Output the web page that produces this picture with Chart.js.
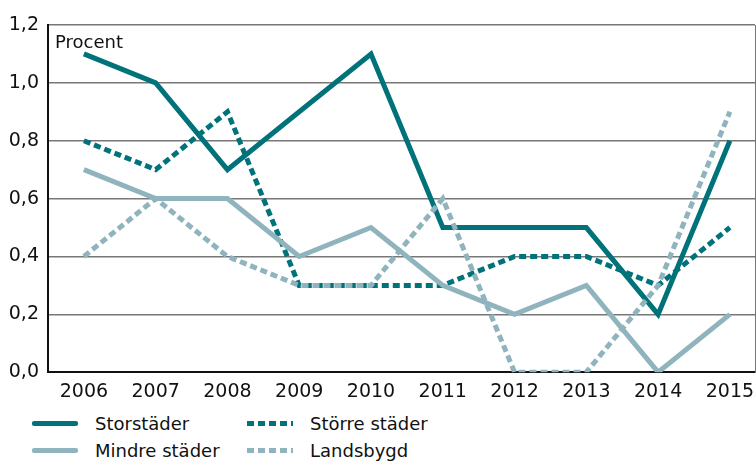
<!DOCTYPE html>
<html>
<head>
<meta charset="utf-8">
<script src="https://cdn.jsdelivr.net/npm/chart.js@4"></script>
<style>
  html, body { margin: 0; padding: 0; background: #fff; }
  body { width: 756px; height: 462px; overflow: hidden; position: relative;
         font-family: "DejaVu Sans", sans-serif; }
  #chart { position: absolute; left: 0; top: 0; }
  #legend { position: absolute; left: 32px; top: 413px; display: grid;
            grid-template-columns: 215px 240px; row-gap: 6px; font-size: 18px; color: #111; }
  .item { display: flex; align-items: center; height: 21px; }
  .sample { width: 46px; height: 5px; margin-right: 17px; border-radius: 2px; }
</style>
</head>
<body>
<canvas id="chart" width="756" height="411"></canvas>
<div id="legend"></div>
<script>
const years = [2006, 2007, 2008, 2009, 2010, 2011, 2012, 2013, 2014, 2015];
const storstader = [1.1, 1.0, 0.7, 0.9, 1.1, 0.5, 0.5, 0.5, 0.2, 0.8];
const storreStader = [0.8, 0.7, 0.9, 0.3, 0.3, 0.3, 0.4, 0.4, 0.3, 0.5];
const mindreStader = [0.7, 0.6, 0.6, 0.4, 0.5, 0.3, 0.2, 0.3, 0.0, 0.2];
const landsbygd = [0.4, 0.6, 0.4, 0.3, 0.3, 0.6, 0.0, 0.0, 0.3, 0.9];
const yTicks = [0, 0.2, 0.4, 0.6, 0.8, 1.0, 1.2];

const dark = 'rgb(0, 114, 122)';
const light = 'rgb(143, 180, 189)';
const dots = [7, 4];
const fontFamily = '"DejaVu Sans", sans-serif';

function line(label, values, color, dashed) {
    return {
        label: label,
        data: values.map((v, i) => ({ x: years[i], y: v })),
        borderColor: color,
        backgroundColor: color,
        borderWidth: 5,
        borderDash: dashed ? dots : [],
        pointRadius: 0,
        fill: false,
        tension: 0
    };
}

// text "Procent" inside the plot, top left
const procentLabel = {
    id: 'procentLabel',
    afterDraw(chart) {
        const c = chart.ctx;
        c.save();
        c.font = '18px ' + fontFamily;
        c.fillStyle = '#111';
        c.textBaseline = 'alphabetic';
        c.fillText('Procent', chart.chartArea.left + 7, chart.chartArea.top + 23);
        c.restore();
    }
};

const ctx = document.getElementById('chart');
const chart = new Chart(ctx, {
    type: 'line',
    data: {
        datasets: [
            line('Storstäder', storstader, dark, false),
            line('Större städer', storreStader, dark, true),
            line('Mindre städer', mindreStader, light, false),
            line('Landsbygd', landsbygd, light, true)
        ].reverse()
    },
    options: {
        responsive: false,
        animation: false,
        devicePixelRatio: 1,
        layout: { padding: { top: 25, right: 0, left: 0, bottom: 0 } },
        plugins: { legend: { display: false }, tooltip: { enabled: false } },
        scales: {
            x: {
                type: 'linear',
                min: 2005.5,
                max: 2015.35,
                afterBuildTicks: s => { s.ticks = years.map(v => ({ value: v })); },
                afterFit: s => { s.paddingLeft = 0; s.paddingRight = 0; },
                grid: { display: false, drawTicks: false },
                border: { color: '#111', width: 2 },
                ticks: { color: '#111', font: { size: 19, family: fontFamily }, padding: 8,
                         maxRotation: 0, autoSkip: false, callback: v => String(v) }
            },
            y: {
                min: 0,
                max: 1.2,
                afterBuildTicks: s => { s.ticks = yTicks.map(v => ({ value: v })); },
                afterFit: s => { s.width = 48; },
                grid: { color: '#777', lineWidth: 1.5, drawTicks: false },
                border: { color: '#111', width: 2 },
                ticks: {
                    color: '#111',
                    padding: 9,
                    font: { size: 19, family: fontFamily },
                    callback: v => v.toFixed(1).replace('.', ',')
                }
            },
            yRight: {
                position: 'right',
                min: 0,
                max: 1.2,
                afterFit: s => { s.width = 1; },
                grid: { display: false, drawTicks: false },
                border: { color: '#777', width: 1 },
                ticks: { display: false }
            }
        }
    },
    plugins: [procentLabel]
});

// legend in two columns, like the original
const legendOrder = ['Storstäder', 'Större städer', 'Mindre städer', 'Landsbygd'];
const legend = document.getElementById('legend');
legendOrder.forEach(name => {
    const ds = chart.data.datasets.find(d => d.label === name);
    const item = document.createElement('div');
    item.className = 'item';
    const sample = document.createElement('div');
    sample.className = 'sample';
    if (ds.borderDash.length) {
        sample.style.borderRadius = '0';
        sample.style.background = 'repeating-linear-gradient(90deg, ' + ds.borderColor + ' 0 7px, transparent 7px 11px)';
    } else {
        sample.style.background = ds.borderColor;
    }
    const text = document.createElement('span');
    text.textContent = name;
    item.appendChild(sample);
    item.appendChild(text);
    legend.appendChild(item);
});
</script>
</body>
</html>
